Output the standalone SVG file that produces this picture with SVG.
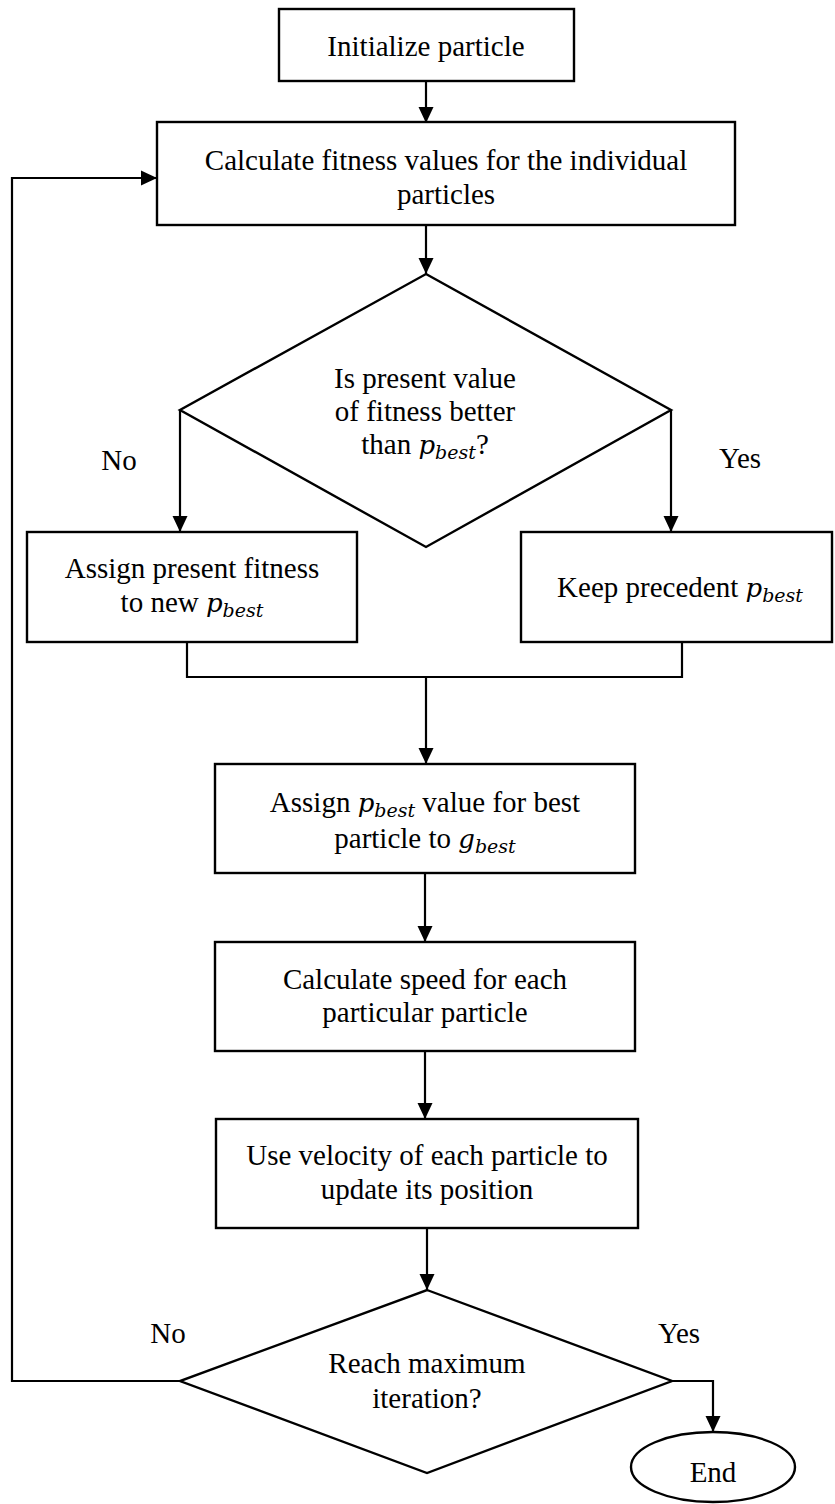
<svg xmlns="http://www.w3.org/2000/svg" width="835" height="1504" viewBox="0 0 835 1504">
  <style>
    .box { fill: #ffffff; stroke: #000000; stroke-width: 2.4; }
    .edge { fill: none; stroke: #000000; stroke-width: 2.2; }
    .arrow { marker-end: url(#head); }
    text { font-family: "Liberation Serif", "Times New Roman", serif; font-size: 29px; fill: #000000; text-anchor: middle; }
    .m { font-family: "DejaVu Serif", "Liberation Serif", serif; font-style: italic; font-size: 26px; }
    .sub { font-family: "DejaVu Serif", "Liberation Serif", serif; font-style: italic; font-size: 19px; }
  </style>
  <defs>
    <marker id="head" markerUnits="userSpaceOnUse" markerWidth="17" markerHeight="17" viewBox="0 0 17 17" refX="16" refY="8.5" orient="auto">
      <path d="M0,1 L16,8.5 L0,16 Z" fill="#000000"/>
    </marker>
  </defs>

  <rect width="835" height="1504" fill="#ffffff"/>

  <!-- connectors -->
  <g id="connectors">
    <path class="edge arrow" d="M426,81 V123"/>
    <path class="edge arrow" d="M426,225 V274"/>
    <path class="edge arrow" d="M180,410 V532"/>
    <path class="edge arrow" d="M671,410 V532"/>
    <path class="edge" d="M187,642 V677 H682 V642"/>
    <path class="edge arrow" d="M426,677 V764"/>
    <path class="edge arrow" d="M425,873 V942"/>
    <path class="edge arrow" d="M425,1051 V1119"/>
    <path class="edge arrow" d="M427,1228 V1290"/>
    <path class="edge arrow" d="M180,1381 H12 V178 H157"/>
    <path class="edge arrow" d="M672,1381 H713 V1432"/>
  </g>

  <!-- edge labels -->
  <g id="labels">
    <text x="119" y="470">No</text>
    <text x="740" y="468">Yes</text>
    <text x="168" y="1343">No</text>
    <text x="679" y="1343">Yes</text>
  </g>

  <g id="init">
    <rect class="box" x="279" y="9" width="295" height="72"/>
    <text x="426" y="56">Initialize particle</text>
  </g>

  <g id="fitness">
    <rect class="box" x="157" y="122" width="578" height="103"/>
    <text x="446" y="170">Calculate fitness values for the individual</text>
    <text x="446" y="204">particles</text>
  </g>

  <g id="compare">
    <polygon class="box" points="426,274 671,410 426,547 180,410"/>
    <text x="425" y="388">Is present value</text>
    <text x="425" y="421">of fitness better</text>
    <text x="425" y="454">than <tspan class="m">p</tspan><tspan class="sub" dy="5">best</tspan><tspan dy="-5">?</tspan></text>
  </g>

  <g id="assign-new">
    <rect class="box" x="27" y="532" width="330" height="110"/>
    <text x="192" y="578">Assign present fitness</text>
    <text x="192" y="612">to new <tspan class="m">p</tspan><tspan class="sub" dy="5">best</tspan></text>
  </g>

  <g id="keep">
    <rect class="box" x="521" y="532" width="311" height="110"/>
    <text x="680" y="597">Keep precedent <tspan class="m">p</tspan><tspan class="sub" dy="5">best</tspan></text>
  </g>

  <g id="gbest">
    <rect class="box" x="215" y="764" width="420" height="109"/>
    <text x="425" y="812">Assign <tspan class="m">p</tspan><tspan class="sub" dy="5">best</tspan><tspan dy="-5"> value for best</tspan></text>
    <text x="425" y="848">particle to <tspan class="m">g</tspan><tspan class="sub" dy="5">best</tspan></text>
  </g>

  <g id="speed">
    <rect class="box" x="215" y="942" width="420" height="109"/>
    <text x="425" y="989">Calculate speed for each</text>
    <text x="425" y="1022">particular particle</text>
  </g>

  <g id="update">
    <rect class="box" x="216" y="1119" width="422" height="109"/>
    <text x="427" y="1165">Use velocity of each particle to</text>
    <text x="427" y="1199">update its position</text>
  </g>

  <g id="check">
    <polygon class="box" points="427,1290 672,1381 427,1473 180,1381"/>
    <text x="427" y="1373">Reach maximum</text>
    <text x="427" y="1408">iteration?</text>
  </g>

  <g id="end">
    <ellipse class="box" cx="713" cy="1467" rx="82" ry="35"/>
    <text x="713" y="1482">End</text>
  </g>
</svg>
